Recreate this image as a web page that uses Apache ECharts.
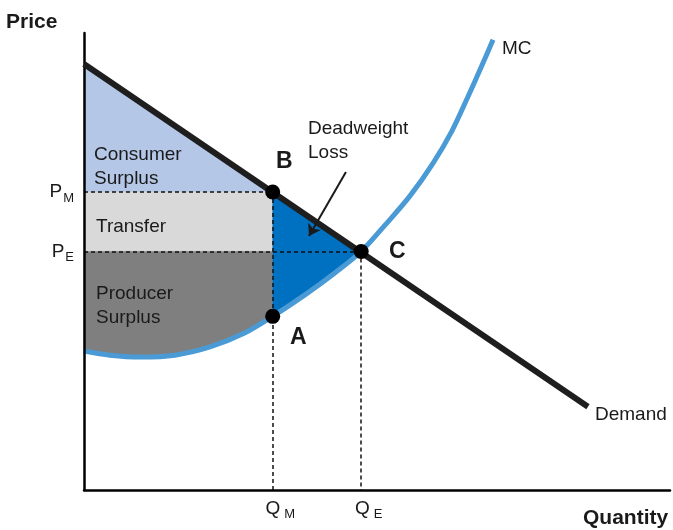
<!DOCTYPE html>
<html>
<head>
<meta charset="utf-8">
<script src="https://cdn.jsdelivr.net/npm/echarts@6/dist/echarts.min.js"></script>
<style>html,body{margin:0;padding:0;background:#fff}#c{width:673px;height:530px}</style>
</head>
<body>
<div id="c"></div>
<script>
// ---- data (abstract price / quantity units) ----
var demandQ = [0, 86];
var demandP = [93.2, 18.2];
var mcQ = [0, 4.4, 9.6, 15.5, 21.5, 27.5, 32.2, 37.7, 42.8, 47.3, 51.4, 55.6, 59.6, 62.8, 65.5, 67.8, 69.8];
var mcP = [30.4, 29.5, 29.1, 29.5, 31.3, 34.4, 38.0, 42.7, 47.5, 52.2, 58.0, 64.3, 71.6, 78.6, 86.0, 92.6, 98.5];
var QM = 32.2, QE = 47.3;
var PM = 65.2, PE = 52.2, PA = 38.0;
var priceTickValues = [PE, PM];
var priceTickSubs = ['E', 'M'];
var qtyTickValues = [QM, QE];
var qtyTickSubs = ['M', 'E'];
var arrowFrom = [44.7, 69.6];
var arrowTo = [38.4, 55.6];

// ---- derived geometry ----
var demandPts = demandQ.map(function (q, i) { return [q, demandP[i]]; });
var mcPts = mcQ.map(function (q, i) { return [q, mcP[i]]; });
var mcBelowQM = mcPts.filter(function (p) { return p[0] <= QM; });
var mcQMtoQE = mcPts.filter(function (p) { return p[0] >= QM && p[0] <= QE; });

var consumerPoly = [[0, demandP[0]], [QM, PM], [0, PM]];
var transferPoly = [[0, PM], [QM, PM], [QM, PE], [0, PE]];
var producerPoly = [[0, PE], [QM, PE]].concat(mcBelowQM.slice().reverse());
var dwlPoly = [[QM, PM], [QE, PE]].concat(mcQMtoQE.slice().reverse());

var FONT = '"Liberation Sans", Arial, sans-serif';
var TXT = '#1a1a1a';

function region(points, color, z) {
  return {
    type: 'custom', silent: true, z: z,
    data: points,
    encode: { x: 0, y: 1 },
    renderItem: function (params, api) {
      if (params.dataIndex !== 0) return null;
      return {
        type: 'polygon',
        shape: { points: points.map(function (p) { return api.coord(p); }) },
        style: { fill: color, stroke: color, lineWidth: 0.5 }
      };
    }
  };
}

function txt(text, x, y, size, bold) {
  return {
    type: 'text', x: x, y: y, z: 100,
    style: {
      text: text, fill: TXT,
      font: (bold ? 'bold ' : '') + size + 'px ' + FONT,
      textAlign: 'left', textVerticalAlign: 'middle',
      align: 'left', verticalAlign: 'middle'
    }
  };
}

var chart = echarts.init(document.getElementById('c'), null, { renderer: 'canvas' });
chart.setOption({
  animation: false,
  backgroundColor: '#ffffff',
  grid: { left: 84, right: 3, top: 33, bottom: 40, containLabel: false },
  xAxis: {
    type: 'value', min: 0, max: 100, z: 5,
    axisLine: { show: true, lineStyle: { color: '#000', width: 2.5 } },
    axisTick: { show: false },
    splitLine: { show: false },
    axisLabel: {
      customValues: qtyTickValues,
      margin: 6,
      formatter: function (v) {
        var i = qtyTickValues.indexOf(v);
        if (i < 0) { i = v < (QM + QE) / 2 ? 0 : 1; }
        return '{q|Q}{s|' + qtyTickSubs[i] + '}';
      },
      rich: {
        q: { fontSize: 19, fontFamily: FONT, color: TXT, padding: [0, 0, 0, 15] },
        s: { fontSize: 13, fontFamily: FONT, color: TXT, padding: [12, 0, 0, 4] }
      }
    }
  },
  yAxis: {
    type: 'value', min: 0, max: 100, z: 5,
    axisLine: { show: true, lineStyle: { color: '#000', width: 2.5 } },
    axisTick: { show: false },
    splitLine: { show: false },
    axisLabel: {
      customValues: priceTickValues,
      margin: 10,
      formatter: function (v) {
        var i = priceTickValues.indexOf(v);
        if (i < 0) { i = v < (PE + PM) / 2 ? 0 : 1; }
        return '{p|P}{s|' + priceTickSubs[i] + '}';
      },
      rich: {
        p: { fontSize: 19, fontFamily: FONT, color: TXT },
        s: { fontSize: 13, fontFamily: FONT, color: TXT, padding: [12, 0, 0, 1] }
      }
    }
  },
  series: [
    region(consumerPoly, '#b4c7e7', 1),
    region(transferPoly, '#d9d9d9', 1),
    region(producerPoly, '#7f7f7f', 1),
    region(dwlPoly, '#0070c0', 1),
    {
      type: 'lines', coordinateSystem: 'cartesian2d', z: 3, silent: true,
      lineStyle: { color: '#111', width: 1.5, type: [4, 3], opacity: 1 },
      data: [
        { coords: [[0, PM], [QM, PM]] },
        { coords: [[0, PE], [QE, PE]] },
        { coords: [[QM, PM], [QM, 0]] },
        { coords: [[QE, PE], [QE, 0]] }
      ]
    },
    {
      type: 'line', data: mcPts, z: 4, silent: true,
      showSymbol: false, symbol: 'none', smooth: 0.3,
      lineStyle: { color: '#4a9bd5', width: 5 }
    },
    {
      type: 'line', data: demandPts, z: 5, silent: true,
      showSymbol: false, symbol: 'none',
      lineStyle: { color: '#1e1e1e', width: 6 }
    },
    {
      type: 'lines', coordinateSystem: 'cartesian2d', z: 6, silent: true,
      symbol: ['none', 'arrow'], symbolSize: 11,
      lineStyle: { color: '#1a1a1a', width: 2, opacity: 1 },
      data: [{ coords: [arrowFrom, arrowTo] }]
    },
    {
      type: 'scatter', z: 7, silent: true,
      symbol: 'circle', symbolSize: 15,
      itemStyle: { color: '#000', opacity: 1 },
      data: [[QM, PM], [QE, PE], [QM, PA]]
    }
  ],
  graphic: [
    txt('Price', 6, 22, 21, true),
    txt('Quantity', 583, 518, 21, true),
    txt('Consumer', 94, 155, 19),
    txt('Surplus', 94, 179, 19),
    txt('Transfer', 96, 227, 19),
    txt('Producer', 96, 294, 19),
    txt('Surplus', 96, 318, 19),
    txt('Deadweight', 308, 129, 19),
    txt('Loss', 308, 153, 19),
    txt('B', 276, 162, 23, true),
    txt('C', 389, 252, 23, true),
    txt('A', 290, 338, 23, true),
    txt('MC', 502, 49, 19),
    txt('Demand', 595, 415, 19)
  ]
});
</script>
</body>
</html>
